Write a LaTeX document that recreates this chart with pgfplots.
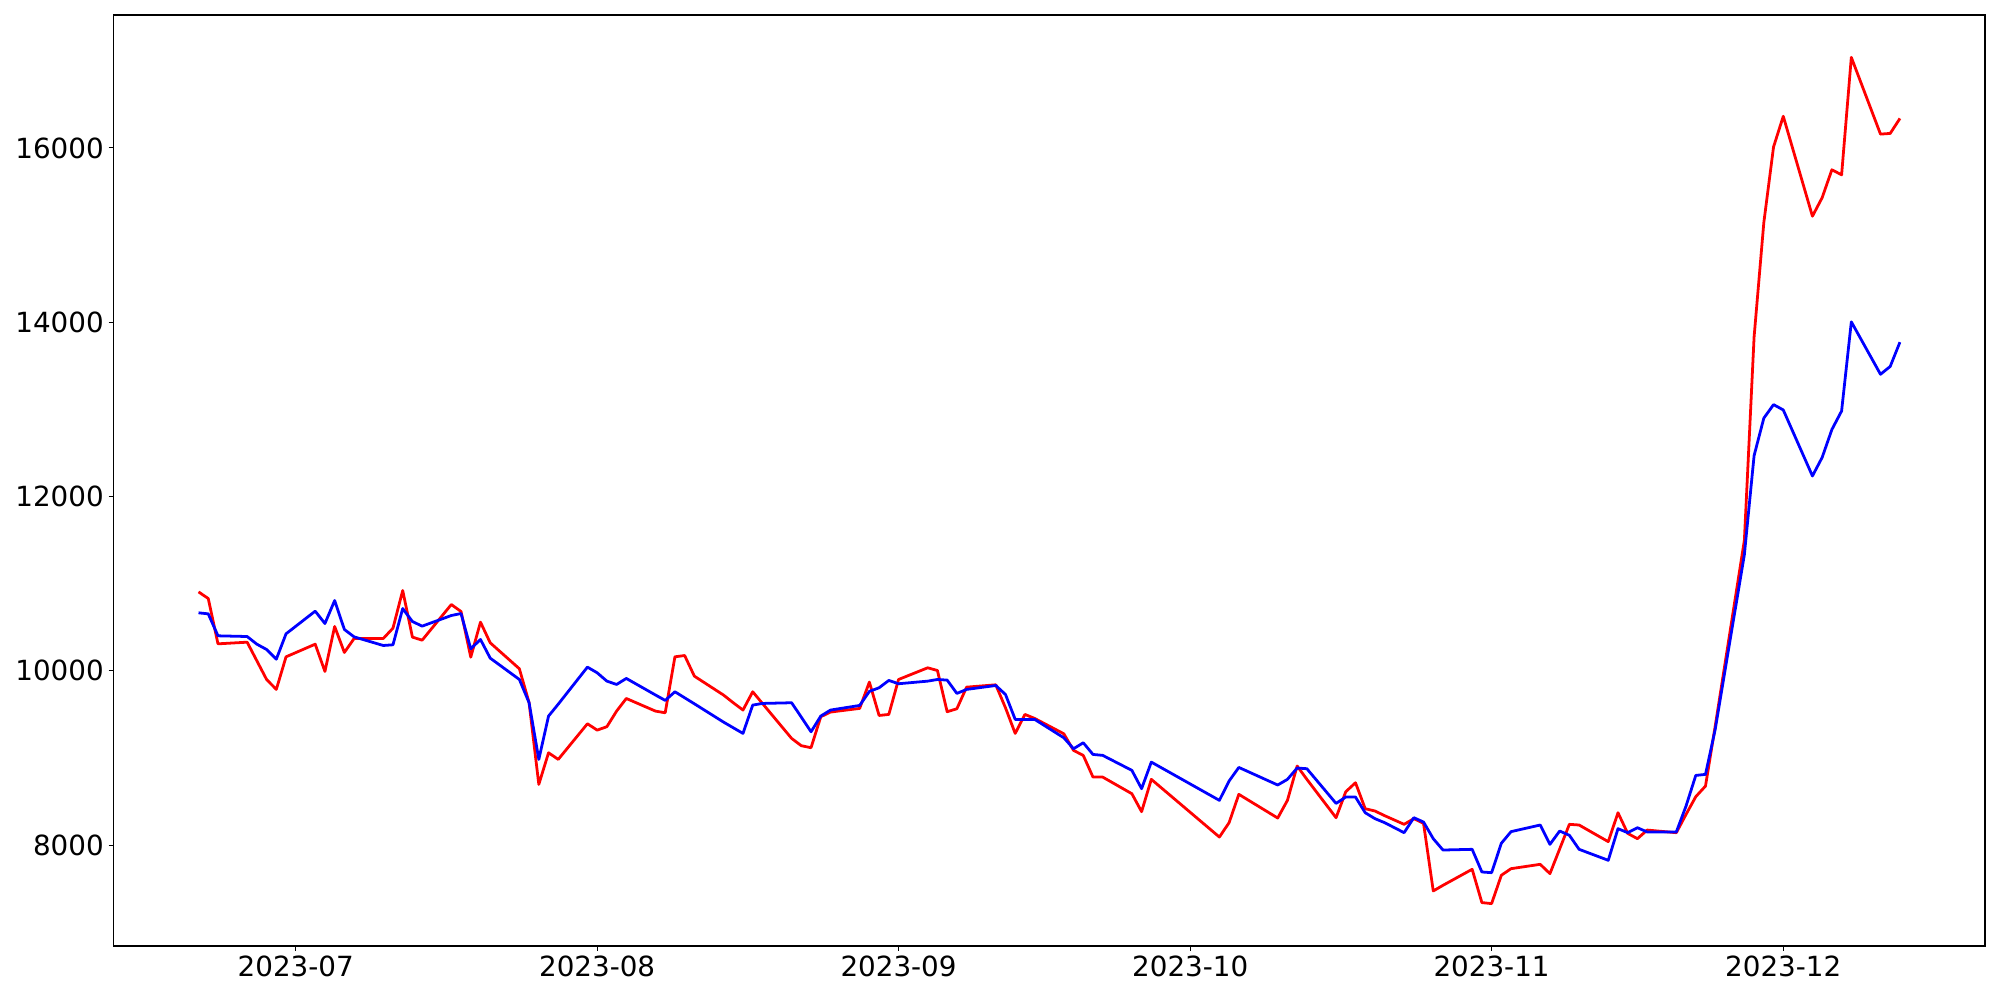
\documentclass[border=0pt]{standalone}
\usepackage{fontspec}
\setmainfont{DejaVu Sans}
\usepackage{pgfplots}
\pgfplotsset{compat=1.18}
\begin{document}
\begin{tikzpicture}
\useasboundingbox (-81.7pt,-38.9pt) rectangle (1358.3pt,681.1pt);
\begin{axis}[
  at={(0,0)}, anchor=south west,
  scale only axis, width=1347.5pt, height=670.3pt,
  xmin=-18.75, xmax=173.75, ymin=6842, ymax=17525,
  axis line style={line width=0.8pt},
  xtick={0,31,62,92,123,153},
  xticklabels={2023-07,2023-08,2023-09,2023-10,2023-11,2023-12},
  ytick={8000,10000,12000,14000,16000},
  xtick pos=left, ytick pos=left,
  tick align=outside, major tick length=3.5pt,
  tick style={line width=0.8pt, black},
  scaled y ticks=false,
  yticklabel={\pgfmathprintnumber[fixed,precision=0,1000 sep={}]{\tick}},
  /pgf/number format/assume math mode=true,
  tick label style={font=\fontsize{20pt}{24pt}\selectfont},
  every axis plot/.append style={line width=2pt, line join=round},
  clip=false,
]
\addplot[red, mark=none] coordinates {
(-10,10905) (-9,10829) (-8,10309) (-5,10328) (-4,10114) (-3,9900) (-2,9786) (-1,10160)
(2,10305) (3,9992) (4,10508) (5,10210) (6,10370) (9,10370) (10,10489) (11,10921) (12,10386) (13,10351)
(16,10760) (17,10680) (18,10156) (19,10558) (20,10321) (23,10023) (24,9633) (25,8696) (26,9059) (27,8983)
(30,9392) (31,9319) (32,9358) (33,9537) (34,9682) (37,9537) (38,9518) (39,10160) (40,10175) (41,9938)
(44,9721) (45,9633) (46,9549) (47,9759) (48,9625) (51,9224) (52,9140) (53,9117) (54,9472) (55,9526)
(58,9568) (59,9870) (60,9487) (61,9499) (62,9900) (65,10034) (66,10003) (67,9530) (68,9564) (69,9812)
(72,9839) (73,9575) (74,9281) (75,9499) (76,9453) (79,9277) (80,9086) (81,9029) (82,8780) (83,8780)
(86,8589) (87,8383) (88,8754) (95,8092) (96,8257) (97,8582) (101,8310) (102,8513) (103,8907) (104,8754)
(107,8314) (108,8612) (109,8715) (110,8417) (111,8391) (112,8337) (114,8238) (115,8303) (116,8249)
(117,7473) (118,7538) (121,7722) (122,7340) (123,7328) (124,7653) (125,7729) (128,7779) (129,7672)
(130,7955) (131,8238) (132,8230) (135,8039) (136,8371) (137,8134) (138,8073) (139,8172) (142,8142)
(143,8352) (144,8555) (145,8677) (146,9365) (149,11498) (150,13832) (151,15143) (152,16011) (153,16363)
(156,15216) (157,15429) (158,15749) (159,15691) (160,17039) (163,16158) (164,16166) (165,16338)
};
\addplot[blue, mark=none] coordinates {
(-10,10665) (-9,10653) (-8,10401) (-5,10393) (-4,10305) (-3,10244) (-2,10133) (-1,10424)
(2,10684) (3,10542) (4,10806) (5,10474) (6,10389) (9,10290) (10,10298) (11,10714) (12,10565) (13,10512)
(16,10634) (17,10657) (18,10252) (19,10359) (20,10145) (23,9900) (24,9633) (25,8983) (26,9480) (27,9617)
(30,10042) (31,9977) (32,9881) (33,9843) (34,9912) (37,9722) (38,9660) (39,9759) (40,9690) (41,9621)
(44,9411) (45,9346) (46,9281) (47,9606) (48,9625) (51,9633) (52,9468) (53,9300) (54,9480) (55,9549)
(58,9602) (59,9763) (60,9805) (61,9889) (62,9851) (65,9881) (66,9900) (67,9893) (68,9740) (69,9786)
(72,9831) (73,9728) (74,9442) (75,9442) (76,9442) (79,9231) (80,9105) (81,9174) (82,9040) (83,9029)
(86,8857) (87,8647) (88,8952) (95,8513) (96,8735) (97,8891) (101,8689) (102,8754) (103,8884) (104,8876)
(107,8478) (108,8551) (109,8551) (110,8371) (111,8303) (112,8257) (114,8142) (115,8314) (116,8264)
(117,8073) (118,7943) (121,7951) (122,7691) (123,7683) (124,8020) (125,8154) (128,8230) (129,8008)
(130,8161) (131,8112) (132,7951) (135,7825) (136,8188) (137,8142) (138,8199) (139,8150) (142,8150)
(143,8448) (144,8799) (145,8811) (146,9327) (149,11334) (150,12469) (151,12899) (152,13054) (153,12993)
(156,12235) (157,12448) (158,12768) (159,12981) (160,14004) (163,13402) (164,13492) (165,13771)
};
\end{axis}
\end{tikzpicture}
\end{document}
